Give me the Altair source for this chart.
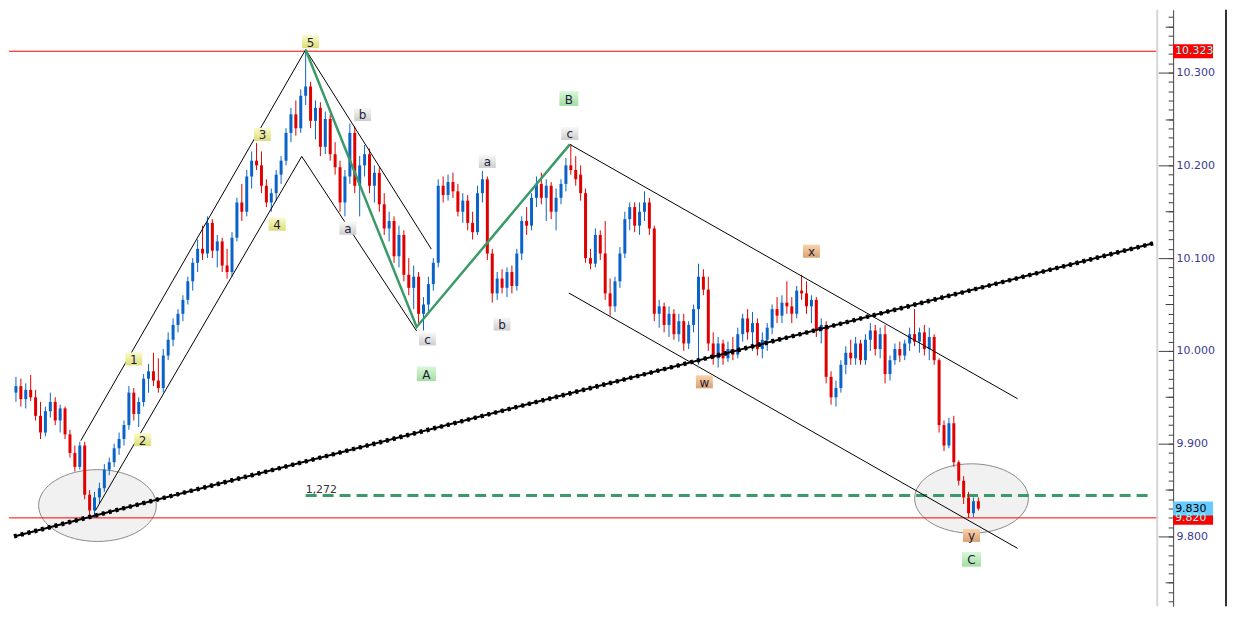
import altair as alt
import pandas as pd

# ---------------- OHLC bars ----------------
opens = [9.955,9.962,9.948,9.958,9.950,9.930,9.912,9.935,9.945,9.925,9.938,9.910,9.890,9.875,9.898,9.845,9.828,9.842,9.852,9.872,
         9.880,9.895,9.905,9.920,9.955,9.932,9.945,9.970,9.978,9.968,9.960,9.995,10.012,10.028,10.040,10.055,10.075,10.095,10.110,10.105,
         10.138,10.108,10.118,10.092,10.085,10.122,10.160,10.150,10.188,10.205,10.200,10.178,10.160,10.170,10.190,10.205,10.235,10.255,10.240,10.275,
         10.285,10.248,10.262,10.220,10.250,10.212,10.198,10.160,10.188,10.235,10.178,10.200,10.212,10.178,10.192,10.158,10.132,10.140,10.102,10.125,
         10.082,10.068,10.080,10.040,10.050,10.072,10.095,10.178,10.168,10.182,10.172,10.150,10.162,10.138,10.128,10.170,10.185,10.105,10.062,10.078,
         10.068,10.085,10.070,10.105,10.140,10.135,10.165,10.180,10.165,10.178,10.150,10.165,10.180,10.200,10.195,10.190,10.170,10.100,10.094,10.125,
         10.105,10.062,10.048,10.075,10.105,10.142,10.155,10.135,10.150,10.160,10.132,10.040,10.048,10.028,10.040,10.018,10.032,10.008,10.028,10.045,
         10.080,10.066,10.008,9.992,10.008,9.992,10.002,9.996,10.018,10.035,10.020,10.030,10.002,10.012,10.025,10.045,10.038,10.052,10.048,10.040,
         10.065,10.062,10.048,10.055,10.022,10.028,9.972,9.950,9.960,9.985,9.998,9.992,10.008,9.990,10.012,10.022,10.002,10.018,9.975,9.990,
         10.002,9.995,10.008,10.018,10.010,10.020,10.002,10.015,9.990,9.920,9.898,9.922,9.880,9.860,9.842,9.825,9.838]
highs = [9.972,9.970,9.965,9.974,9.958,9.945,9.940,9.955,9.950,9.942,9.940,9.915,9.898,9.902,9.902,9.850,9.848,9.858,9.878,9.885,
         9.900,9.912,9.925,9.962,9.960,9.950,9.975,9.986,9.998,9.992,10.002,10.020,10.035,10.045,10.060,10.080,10.100,10.120,10.135,10.145,
         10.142,10.125,10.122,10.110,10.128,10.165,10.180,10.195,10.215,10.224,10.215,10.185,10.175,10.195,10.210,10.240,10.262,10.270,10.282,10.323,
         10.290,10.270,10.268,10.258,10.255,10.225,10.205,10.195,10.245,10.242,10.210,10.222,10.218,10.200,10.198,10.170,10.150,10.145,10.135,10.130,
         10.100,10.092,10.085,10.058,10.080,10.100,10.185,10.188,10.190,10.192,10.180,10.170,10.168,10.150,10.178,10.194,10.188,10.110,10.085,10.088,
         10.090,10.092,10.110,10.145,10.155,10.170,10.188,10.192,10.185,10.182,10.175,10.185,10.208,10.223,10.210,10.200,10.175,10.110,10.132,10.130,
         10.140,10.078,10.080,10.112,10.150,10.160,10.160,10.160,10.172,10.165,10.135,10.055,10.052,10.048,10.045,10.040,10.040,10.032,10.050,10.094,
         10.088,10.080,10.020,10.015,10.012,10.010,10.015,10.025,10.040,10.045,10.042,10.035,10.020,10.030,10.050,10.058,10.060,10.075,10.058,10.070,
         10.082,10.075,10.060,10.058,10.035,10.032,9.978,9.968,9.990,10.005,10.012,10.015,10.012,10.018,10.030,10.028,10.025,10.028,9.995,10.008,
         10.010,10.012,10.025,10.045,10.025,10.028,10.025,10.018,9.992,9.925,9.928,9.930,9.882,9.865,9.848,9.842,9.842]
lows = [9.945,9.940,9.938,9.946,9.925,9.905,9.908,9.928,9.920,9.912,9.905,9.885,9.870,9.872,9.840,9.823,9.820,9.835,9.848,9.866,
        9.875,9.888,9.898,9.915,9.925,9.918,9.940,9.955,9.962,9.955,9.955,9.990,10.005,10.020,10.032,10.050,10.065,10.085,10.098,10.100,
        10.100,10.090,10.085,10.078,10.080,10.118,10.140,10.145,10.175,10.195,10.170,10.155,10.150,10.162,10.180,10.200,10.225,10.232,10.235,10.265,
        10.240,10.228,10.210,10.212,10.205,10.190,10.150,10.145,10.180,10.170,10.145,10.188,10.170,10.160,10.150,10.125,10.118,10.095,10.090,10.075,
        10.060,10.045,10.030,10.022,10.040,10.065,10.090,10.160,10.162,10.165,10.145,10.138,10.130,10.120,10.125,10.160,10.098,10.052,10.055,10.062,
        10.058,10.062,10.065,10.098,10.125,10.130,10.155,10.158,10.140,10.142,10.130,10.158,10.172,10.190,10.178,10.162,10.095,10.088,10.090,10.098,
        10.055,10.038,10.042,10.068,10.100,10.130,10.128,10.125,10.140,10.125,10.032,10.025,10.020,10.015,10.012,10.010,10.000,10.002,10.020,9.985,
        10.060,10.000,9.985,9.982,9.985,9.988,9.990,9.992,10.010,10.012,10.000,9.995,9.992,10.000,10.018,10.030,10.030,10.040,10.030,10.035,
        10.055,10.040,10.030,10.015,10.008,9.965,9.942,9.940,9.955,9.975,9.985,9.985,9.985,9.985,10.000,9.995,9.992,9.965,9.968,9.985,
        9.988,9.990,10.000,10.005,9.998,9.995,9.990,9.985,9.912,9.892,9.895,9.875,9.855,9.835,9.820,9.821,9.828]
closes = [9.962,9.948,9.958,9.950,9.930,9.912,9.935,9.945,9.925,9.938,9.910,9.890,9.875,9.898,9.845,9.828,9.842,9.852,9.872,9.880,
          9.895,9.905,9.920,9.955,9.932,9.945,9.970,9.978,9.968,9.960,9.995,10.012,10.028,10.040,10.055,10.075,10.095,10.110,10.105,10.138,
          10.108,10.118,10.092,10.085,10.122,10.160,10.150,10.188,10.205,10.200,10.178,10.160,10.170,10.190,10.205,10.235,10.255,10.240,10.275,10.285,
          10.248,10.262,10.220,10.250,10.212,10.198,10.160,10.188,10.235,10.178,10.200,10.212,10.178,10.192,10.158,10.132,10.140,10.102,10.125,10.082,
          10.068,10.080,10.040,10.050,10.072,10.095,10.178,10.168,10.182,10.172,10.150,10.162,10.138,10.128,10.170,10.185,10.105,10.062,10.078,10.068,
          10.085,10.070,10.105,10.140,10.135,10.165,10.180,10.165,10.178,10.150,10.165,10.180,10.200,10.195,10.185,10.170,10.100,10.094,10.125,10.105,
          10.062,10.048,10.075,10.105,10.142,10.155,10.135,10.150,10.160,10.132,10.040,10.048,10.028,10.040,10.018,10.032,10.008,10.028,10.045,10.080,
          10.066,10.008,9.992,10.008,9.992,10.002,9.996,10.018,10.035,10.020,10.030,10.002,10.012,10.025,10.045,10.038,10.052,10.048,10.040,10.065,
          10.062,10.048,10.055,10.022,10.028,9.972,9.950,9.960,9.985,9.998,9.992,10.008,9.990,10.012,10.022,10.002,10.018,9.975,9.990,10.002,
          9.995,10.008,10.018,10.010,10.020,10.002,10.015,9.990,9.920,9.898,9.922,9.880,9.860,9.842,9.825,9.838,9.830]

# ---------------- axis ticks ----------------
tick_labels = [9.8, 9.9, 10.0, 10.1, 10.2, 10.3]
mid_ticks = [9.75, 9.85, 9.95, 10.05, 10.15, 10.25, 10.35]
minor_ticks = [round(9.73 + 0.01 * k, 2) for k in range(64)]

# ---------------- annotations ----------------
wave_text = ["5", "3", "4", "1", "2", "b", "a", "c", "a", "b", "c", "A", "B", "C", "x", "w", "y"]
wave_t = [60, 50.2, 53.2, 24, 25.8, 70.6, 67.6, 83.8, 96, 99, 112.8, 83.6, 112.6, 194.6, 162, 140.2, 194.6]
wave_p = [10.3333, 10.2333, 10.1366, 9.9914, 9.9043, 10.2548, 10.1323, 10.0129, 10.2043, 10.0290, 10.2344,
          9.9753, 10.2720, 9.7753, 10.1075, 9.9667, 9.8011]
wave_kind = ["imp"] * 5 + ["sub"] * 6 + ["main"] * 3 + ["cor"] * 3

thin_seg = ["u", "u", "u", "l", "l", "l", "cu", "cu", "cl", "cl"]
thin_t = [13.2, 59, 84.6, 16.2, 58.2, 81.6, 112.8, 204, 112.6, 204]
thin_p = [9.9032, 10.3247, 10.1097, 9.8280, 10.2097, 10.0215, 10.2226, 9.9484, 10.0624, 9.7871]

green_t = [59, 81.6, 112.8]
green_p = [10.3247, 10.0258, 10.2226]

trend_t = [-0.4, 231.6]
trend_p = [9.800, 10.116]

red_levels = [10.323, 9.820]
fib_level = 9.8441
fib_t = [59, 231.6]
fib_label = "1,272"

ell_t = [16.6, 194.6]
ell_p = [9.8333, 9.8409]
ell_size = [13924, 12996]

tag_p = [10.323, 9.820, 9.830]
tag_text = ["10.323", "9.820", "9.830"]
tag_fill = ["#ff0000", "#ff0000", "#66ccff"]
tag_tc = ["#80ffff", "#80ffff", "#000000"]

# ---------------- layout ----------------
W, H = 1152, 598
xsc = alt.Scale(domain=[-0.4, 231.6], nice=False, zero=False)
ysc = alt.Scale(domain=[9.724731, 10.367742], nice=False, zero=False)
FONT = "DejaVu Sans"
TICKC = "#404040"

ax_major = alt.Axis(orient="right", values=tick_labels, format=".3f", tickSize=15, tickColor=TICKC,
                    labelPadding=3, labelColor="#3b3b8f", labelFont=FONT, labelFontSize=11,
                    domain=False, grid=False, title=None, labelFlush=False, labelOverlap=False, labelBound=False)
ax_minor = alt.Axis(orient="right", values=minor_ticks, tickSize=5, offset=10, tickColor=TICKC,
                    labels=False, domain=False, grid=False, title=None)
ax_mid = alt.Axis(orient="right", values=mid_ticks, tickSize=8, offset=7, tickColor=TICKC,
                  labels=False, domain=False, grid=False, title=None)
ax_dom = alt.Axis(orient="right", offset=15, ticks=False, labels=False, domain=True,
                  domainColor=TICKC, grid=False, title=None)

bars = pd.DataFrame({"t": list(range(len(opens))), "o": opens, "h": highs, "l": lows, "c": closes})
bars["dir"] = ["up" if c >= o else "down" for o, c in zip(opens, closes)]
cscale = alt.Scale(domain=["up", "down"], range=["#0a64c8", "#e00000"])

X = lambda f: alt.X(f, scale=xsc, axis=None)
Y = lambda f, ax=None: alt.Y(f, scale=ysc, axis=ax)

ell_df = pd.DataFrame({"t": ell_t, "p": ell_p, "s": ell_size})
ELL = "M-1,0C-1,-0.337,-0.552,-0.61,0,-0.61C0.552,-0.61,1,-0.337,1,0C1,0.337,0.552,0.61,0,0.61C-0.552,0.61,-1,0.337,-1,0Z"
ellipses = alt.Chart(ell_df).mark_point(shape=ELL, filled=True, fill="#f1f1f1", stroke="#8a8a8a",
                                        strokeWidth=1, opacity=1).encode(
    x=X("t:Q"), y=Y("p:Q", ax_dom), size=alt.Size("s:Q", scale=None))

red_df = pd.DataFrame({"p": red_levels})
red_rules = alt.Chart(red_df).mark_rule(color="#ff0000", strokeWidth=1).encode(y=Y("p:Q", ax_mid))

fib_df = pd.DataFrame({"t": [fib_t[0]], "t2": [fib_t[1]], "p": [fib_level], "txt": [fib_label]})
fib_rule = alt.Chart(fib_df).mark_rule(color="#3a9a68", strokeWidth=3, strokeDash=[11, 6]).encode(
    x=X("t:Q"), x2="t2:Q", y=Y("p:Q"))
fib_text = alt.Chart(fib_df).mark_text(align="left", baseline="bottom", dy=-1, font=FONT, fontSize=11,
                                       color="#333333").encode(x=X("t:Q"), y=Y("p:Q"), text="txt:N")

wick = alt.Chart(bars).mark_rule(strokeWidth=1).encode(
    x=X("t:Q"), y=Y("l:Q", ax_minor), y2="h:Q", color=alt.Color("dir:N", scale=cscale, legend=None))
body = alt.Chart(bars).mark_bar(size=3).encode(
    x=X("t:Q"), y=Y("o:Q", ax_major), y2="c:Q", color=alt.Color("dir:N", scale=cscale, legend=None))

thin_df = pd.DataFrame({"seg": thin_seg, "t": thin_t, "p": thin_p, "k": list(range(len(thin_t)))})
thin = alt.Chart(thin_df).mark_line(color="#000000", strokeWidth=1, clip=True).encode(
    x=X("t:Q"), y=Y("p:Q"), detail="seg:N", order="k:Q")

green_df = pd.DataFrame({"t": green_t, "p": green_p, "k": [0, 1, 2]})
green = alt.Chart(green_df).mark_line(color="#3a9a68", strokeWidth=2.5).encode(
    x=X("t:Q"), y=Y("p:Q"), order="k:Q")

trend_df = pd.DataFrame({"t": trend_t, "p": trend_p})
trend = alt.Chart(trend_df).mark_line(color="#000000", strokeWidth=2, clip=True).encode(x=X("t:Q"), y=Y("p:Q"))
trend_dots = alt.Chart(trend_df).mark_line(color="#000000", strokeWidth=4.5, strokeDash=[3, 4], clip=True).encode(
    x=X("t:Q"), y=Y("p:Q"))

lab_df = pd.DataFrame({"t": wave_t, "p": wave_p, "txt": wave_text, "kind": wave_kind})
lab_df["s"] = [361 if k == "main" else 289 for k in wave_kind]
RECT = "M-1,-0.77L1,-0.77L1,0.77L-1,0.77Z"
grad = {
    "imp": ("#fbfbcc", "#dcdc78"),
    "sub": ("#f8f8f8", "#cdcdcd"),
    "main": ("#d8f8d8", "#a2dca2"),
    "cor": ("#f9d4ae", "#dba06e"),
}
box_layers = []
for k, (c1, c2) in grad.items():
    g = alt.Gradient(gradient="linear", x1=0, x2=0, y1=0, y2=1,
                     stops=[alt.GradientStop(color=c1, offset=0), alt.GradientStop(color=c2, offset=1)])
    box_layers.append(
        alt.Chart(lab_df).transform_filter(alt.datum.kind == k).mark_point(
            shape=RECT, filled=True, fill=g, strokeWidth=0, opacity=1).encode(
            x=X("t:Q"), y=Y("p:Q"), size=alt.Size("s:Q", scale=None)))
lab_text = alt.Chart(lab_df).mark_text(font=FONT, fontSize=12, color="#1c1c3c", baseline="middle", dy=1).encode(
    x=X("t:Q"), y=Y("p:Q"), text="txt:N")

sep = alt.Chart(pd.DataFrame({"a": [0]})).mark_rule(color="#d6d6d6", strokeWidth=2).encode(
    x=alt.value(W - 1), y=alt.value(0), y2=alt.value(H))
border = alt.Chart(pd.DataFrame({"a": [0]})).mark_rule(color="#333333", strokeWidth=2, clip=False).encode(
    x=alt.value(W + 68), y=alt.value(0), y2=alt.value(H))

tag_df = pd.DataFrame({"p": tag_p, "txt": tag_text, "fill": tag_fill, "tc": tag_tc, "k": [0, 1, 2]})
TAG = "M-1,-0.35L1,-0.35L1,0.35L-1,0.35Z"
tag_box = alt.Chart(tag_df).mark_point(shape=TAG, filled=True, strokeWidth=0, opacity=1, size=1600).encode(
    x=alt.value(W + 35), y=Y("p:Q"), fill=alt.Fill("fill:N", scale=None), order="k:Q")
tag_txt = alt.Chart(tag_df).mark_text(align="left", baseline="middle", font=FONT, fontSize=11).encode(
    x=alt.value(W + 17), y=Y("p:Q"), text="txt:N", color=alt.Color("tc:N", scale=None))

chart = alt.layer(
    ellipses, red_rules, fib_rule, sep, wick, body, thin, green, trend, trend_dots, fib_text,
    *box_layers, lab_text, tag_box, tag_txt, border
).resolve_scale(y="independent").properties(
    width=W, height=H, padding=0, background="#ffffff"
).configure_view(stroke=None)

chart.save("out.html", embed_options={"renderer": "svg", "actions": False})
